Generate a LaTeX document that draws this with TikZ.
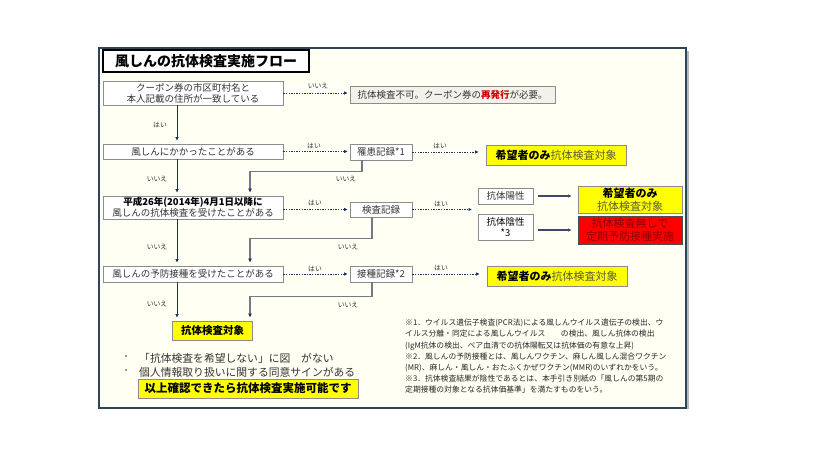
\documentclass[tikz,border=0pt]{standalone}
\usepackage{fontspec}
\setmainfont{Noto Sans CJK JP}
\usetikzlibrary{arrows.meta,calc}
\definecolor{framec}{HTML}{2E4458}
\definecolor{paper}{HTML}{FFFFF4}
\definecolor{navy}{HTML}{1F2F5F}
\definecolor{boxline}{HTML}{8C8C8C}
\definecolor{ngfill}{HTML}{F3F1EA}
\definecolor{ylw}{HTML}{FFFF00}
\definecolor{rd}{HTML}{FF0000}
\definecolor{darkred}{HTML}{8B0000}
\definecolor{txt}{HTML}{333333}
\definecolor{soft}{HTML}{5C5C3C}
\definecolor{lconnc}{HTML}{737986}
\begin{document}
\begin{tikzpicture}[x=1pt,y=-1pt,
  flowbox/.style={draw=boxline,line width=0.8pt,fill=white,inner sep=0pt,align=center,
    font=\fontsize{9.5}{11}\selectfont,text=txt},
  ybox/.style={draw=boxline,line width=0.8pt,fill=ylw,inner sep=0pt,align=center,
    font=\fontsize{11}{12.5}\selectfont,text=black},
  lbl/.style={font=\fontsize{6.8}{7.5}\selectfont,text=txt,inner sep=0pt},
  tip/.style={-{Latex[length=3.5pt,width=3.5pt]}},
  dotarrow/.style={draw=navy,line width=0.7pt,dash pattern=on 1.3pt off 1.3pt,tip,shorten >=2pt},
  varrow/.style={draw=navy,line width=0.7pt,tip,shorten >=3pt},
  sarrow/.style={draw=navy!70!gray,line width=1.1pt,tip,shorten >=6pt,shorten <=5pt},
  lconn/.style={draw=lconnc,line width=1.6pt,-{Latex[length=4pt,width=4pt,color=navy]},shorten >=3pt}
]
\path[fill=white] (0,0) rectangle (819,460);
\useasboundingbox (0,0) rectangle (819,460);
% frame
\draw[gray!55,line width=2pt] (688,51) -- (688,409);
\draw[framec,line width=1.3pt,fill=paper] (99,48) rectangle (686,408);

% title
\node[draw=black,line width=1.6pt,fill=white,minimum width=206pt,minimum height=22pt,inner sep=0pt,
  font=\fontsize{14}{15}\bfseries] (title) at (206,61) {風しんの抗体検査実施フロー};

% flow boxes
\node[flowbox,minimum width=180pt,minimum height=24pt] (A) at (193,93)
  {クーポン券の市区町村名と\\本人記載の住所が一致している};
\node[flowbox,fill=ngfill,minimum width=205pt,minimum height=17pt] (NG) at (452.5,94.5)
  {抗体検査不可。クーポン券の{\color{red!80!black}\bfseries 再発行}が必要。};
\node[flowbox,minimum width=180pt,minimum height=15pt] (B) at (193,151.5) {風しんにかかったことがある};
\node[flowbox,minimum width=62pt,minimum height=16pt] (rk) at (381,152) {罹患記録*1};
\node[ybox,minimum width=140pt,minimum height=20pt] (y1) at (556,155)
  {{\bfseries 希望者のみ}{\color{soft}抗体検査対象}};
\node[flowbox,minimum width=180pt,minimum height=23pt] (C) at (193,207.5)
  {{\bfseries\color{black}平成26年(2014年)4月1日以降に}\\風しんの抗体検査を受けたことがある};
\node[flowbox,minimum width=62pt,minimum height=15pt] (ks) at (381,209.5) {検査記録};
\node[flowbox,minimum width=55pt,minimum height=16pt] (pos) at (505.5,196) {抗体陽性};
\node[flowbox,minimum width=55pt,minimum height=26pt,text=black] (neg) at (505.5,227) {抗体陰性\\*3};
\node[ybox,minimum width=104pt,minimum height=27pt] (y2) at (630,199.5)
  {{\bfseries 希望者のみ}\\{\color{soft}抗体検査対象}};
\node[draw=black!70,line width=0.8pt,fill=rd,inner sep=0pt,align=center,
  font=\fontsize{11}{12.5}\selectfont,text=darkred,minimum width=104pt,minimum height=28pt] (red) at (630,230)
  {抗体検査無しで\\定期予防接種実施};
\node[flowbox,minimum width=180pt,minimum height=16pt] (D) at (193,274) {風しんの予防接種を受けたことがある};
\node[flowbox,minimum width=62pt,minimum height=16pt] (ss) at (381,274) {接種記録*2};
\node[ybox,minimum width=140pt,minimum height=20pt] (y3) at (557,276)
  {{\bfseries 希望者のみ}{\color{soft}抗体検査対象}};
\node[ybox,minimum width=80pt,minimum height=19pt,font=\fontsize{10.5}{12}\bfseries] (tgt) at (212.5,330.5) {抗体検査対象};

% connectors
\draw[dotarrow] (A.east) -- (A.east -| NG.west);
\node[lbl] at (318,86) {いいえ};
\draw[varrow] ([xshift=-16pt]A.south) -- ([xshift=-16pt]A.south |- B.north);
\node[lbl] at (160,125) {はい};

\draw[dotarrow] (B.east) -- (B.east -| rk.west);
\node[lbl] at (314,146) {はい};
\draw[dotarrow,shorten >=7pt] (rk.east) -- (rk.east -| y1.west);
\node[lbl] at (440,146) {はい};
\draw[lconn] ([xshift=-19pt]rk.south) -- ++(0,11) -| ([xshift=57pt]C.north);
\node[lbl] at (346,179) {いいえ};
\draw[varrow] ([xshift=-16pt]B.south) -- ([xshift=-16pt]B.south |- C.north);
\node[lbl] at (157,179) {いいえ};

\draw[dotarrow] (C.east |- ks.west) -- (ks.west);
\node[lbl] at (315,203) {はい};
\coordinate (split) at (474,209.5);
\draw[dotarrow] (ks.east) -- (split);
\node[lbl] at (441,204) {はい};
\draw[sarrow] (pos.east) -- (pos.east -| y2.west);
\draw[sarrow] (neg.east |- red.west) -- (red.west);
\draw[lconn] ([xshift=-9pt]ks.south) -- ++(0,21) -| ([xshift=57pt]D.north);
\node[lbl] at (348,247) {いいえ};
\draw[varrow] ([xshift=-16pt]C.south) -- ([xshift=-16pt]C.south |- D.north);
\node[lbl] at (157,247) {いいえ};

\draw[dotarrow] (D.east) -- (D.east -| ss.west);
\node[lbl] at (315,269) {はい};
\draw[dotarrow,shorten >=7pt] (ss.east) -- (ss.east -| y3.west);
\node[lbl] at (441,268) {はい};
\draw[lconn] ([xshift=-9pt]ss.south) -- ++(0,14) -| ([xshift=37.5pt]tgt.north);
\node[lbl] at (348,305) {いいえ};
\draw[varrow] ([xshift=-16pt]D.south) -- ([xshift=-16pt]D.south |- tgt.north);
\node[lbl] at (157,304) {いいえ};

% bullets
\node[anchor=west,inner sep=0pt,font=\fontsize{8}{9}\selectfont,text=txt] (b1) at (122,358) {・};
\node[anchor=west,inner sep=0pt,font=\fontsize{10.8}{12}\selectfont,text=txt] (t1) at (139,358) {「抗体検査を希望しない」に図　がない};
\node[anchor=west,inner sep=0pt,font=\fontsize{8}{9}\selectfont,text=txt] (b2) at (122,372) {・};
\node[anchor=west,inner sep=0pt,font=\fontsize{10.8}{12}\selectfont,text=txt] (t2) at (139,372) {個人情報取り扱いに関する同意サインがある};
\node[ybox,minimum width=220pt,minimum height=19pt,font=\fontsize{11.5}{13}\bfseries] (fin) at (248,388.5)
  {以上確認できたら抗体検査実施可能です};

% footnotes
\node[anchor=north west,inner sep=0pt,align=left,font=\fontsize{7.8}{11.2}\selectfont,text=black!85] (notes) at (405,319)
  {※1．ウイルス遺伝子検査(PCR法)による風しんウイルス遺伝子の検出、ウ\\
   イルス分離・同定による風しんウイルス　　の検出、風しん抗体の検出\\
   (IgM抗体の検出、ペア血清での抗体陽転又は抗体価の有意な上昇)\\
   ※2．風しんの予防接種とは、風しんワクチン、麻しん風しん混合ワクチン\\
   (MR)、麻しん・風しん・おたふくかぜワクチン(MMR)のいずれかをいう。\\
   ※3．抗体検査結果が陰性であるとは、本手引き別紙の「風しんの第5期の\\
   定期接種の対象となる抗体価基準」を満たすものをいう。};
\end{tikzpicture}
\end{document}
